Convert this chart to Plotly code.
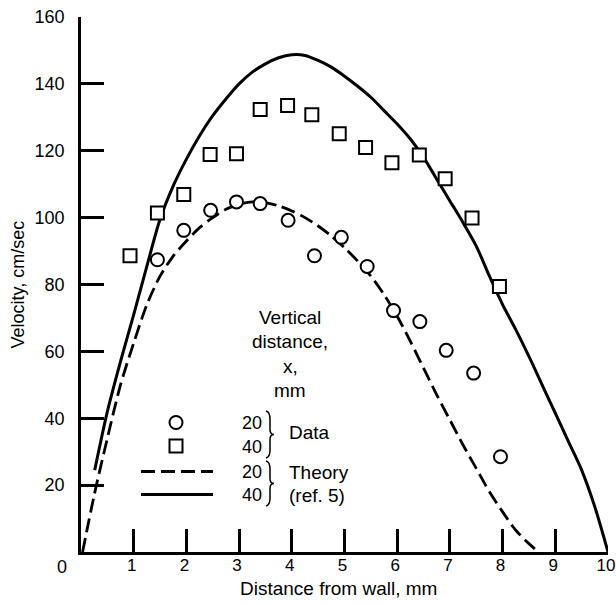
import plotly.graph_objects as go

# ---------------- data ----------------
data20_x = [1.45, 1.95, 2.46, 2.95, 3.4, 3.93, 4.43, 4.94, 5.43, 5.93, 6.43, 6.93, 7.45, 7.96]
data20_y = [87.4, 96.2, 102.2, 104.7, 104.2, 99.2, 88.6, 94.1, 85.4, 72.2, 68.9, 60.3, 53.5, 28.5]

data40_x = [0.93, 1.45, 1.95, 2.45, 2.95, 3.4, 3.92, 4.38, 4.9, 5.4, 5.9, 6.42, 6.91, 7.42, 7.94]
data40_y = [88.6, 101.4, 106.9, 118.9, 119.1, 132.3, 133.5, 130.8, 125.1, 121.0, 116.4, 118.7, 111.6, 99.9, 79.4]

theory20_x = [0.03, 0.25, 0.5, 0.75, 1.0, 1.25, 1.5, 1.75, 2.0, 2.25, 2.5, 2.75, 3.0, 3.25, 3.5,
              3.75, 4.0, 4.25, 4.5, 4.75, 5.0, 5.25, 5.5, 5.75, 6.0, 6.25, 6.5, 6.75, 7.0, 7.25,
              7.5, 7.75, 8.0, 8.25, 8.5, 8.68]
theory20_y = [0.0, 17.0, 34.0, 50.0, 62.5, 74.0, 82.5, 88.5, 93.0, 97.0, 100.0, 102.5, 104.0, 104.7, 104.5,
              103.5, 102.0, 100.0, 97.5, 94.5, 91.0, 87.0, 82.5, 77.0, 70.5, 63.0, 55.0, 47.0, 39.5, 32.0,
              25.0, 18.0, 12.0, 6.5, 2.5, 0.0]

theory40_x = [0.26, 0.5, 0.75, 1.0, 1.25, 1.5, 1.75, 2.0, 2.25, 2.5, 2.75, 3.0, 3.25, 3.5, 3.75,
              4.0, 4.25, 4.5, 4.75, 5.0, 5.25, 5.5, 5.75, 6.0, 6.25, 6.5, 6.75, 7.0, 7.25, 7.5,
              7.75, 8.0, 8.25, 8.5, 8.75, 9.0, 9.25, 9.5, 9.75, 10.0]
theory40_y = [24.5, 42.0, 57.0, 71.0, 85.5, 99.5, 109.5, 117.5, 124.5, 130.5, 135.5, 140.0, 143.5, 146.0, 147.8,
              148.7, 148.5, 147.0, 145.0, 142.3, 139.3, 136.0, 132.0, 128.0, 123.5, 118.0, 111.5, 105.0, 98.5, 91.5,
              82.5, 74.0, 66.5, 58.5, 50.0, 41.5, 33.0, 24.5, 13.5, 0.0]

x_ticks = [1, 2, 3, 4, 5, 6, 7, 8, 9, 10]
y_ticks = [20, 40, 60, 80, 100, 120, 140, 160]

x_title = "Distance from wall, mm"
y_title = "Velocity, cm/sec"
legend_title = ["Vertical", "distance,", "x,", "mm"]
legend_nums = ["20", "40", "20", "40"]
legend_groups = ["Data", "Theory", "(ref. 5)"]

# ---------------- layout helpers ----------------
W, H = 616, 605
ML, MR, MT, MB = 81, 8, 17, 53
PW, PH = W - ML - MR, H - MT - MB


def fx(px):
    return (px - ML) / PW


def fy(py):
    return (H - MB - py) / PH


REG = "Liberation Sans, Arial, sans-serif"

fig = go.Figure()

fig.add_trace(go.Scatter(x=theory20_x, y=theory20_y, mode="lines",
                         line=dict(color="black", width=2.8, dash="14px,6px", shape="spline", smoothing=0.8),
                         showlegend=False, cliponaxis=False))
fig.add_trace(go.Scatter(x=theory40_x, y=theory40_y, mode="lines",
                         line=dict(color="black", width=3, shape="spline", smoothing=0.8),
                         showlegend=False, cliponaxis=False))
fig.add_trace(go.Scatter(x=data20_x, y=data20_y, mode="markers",
                         marker=dict(symbol="circle", size=13, color="white", line=dict(color="black", width=2)),
                         showlegend=False))
fig.add_trace(go.Scatter(x=data40_x, y=data40_y, mode="markers",
                         marker=dict(symbol="square", size=13, color="white", line=dict(color="black", width=2)),
                         showlegend=False))

shapes = []
annotations = []

# axis titles and corner zero
annotations.append(dict(x=fx(338), y=fy(588), xref="paper", yref="paper", text=x_title,
                        showarrow=False, font=dict(family=REG, size=19, color="black"),
                        xanchor="center", yanchor="middle"))
annotations.append(dict(x=fx(17), y=fy(284.5), xref="paper", yref="paper", text=y_title,
                        showarrow=False, textangle=-90, font=dict(family=REG, size=18, color="black"),
                        xanchor="center", yanchor="middle"))
annotations.append(dict(x=fx(62), y=fy(567), xref="paper", yref="paper", text="0",
                        showarrow=False, font=dict(family=REG, size=18, color="black"),
                        xanchor="center", yanchor="middle"))

# legend title block
for i, t in enumerate(legend_title):
    annotations.append(dict(x=fx(290), y=fy(317 + i * 24.5), xref="paper", yref="paper", text=t,
                            showarrow=False, font=dict(family=REG, size=19, color="black"),
                            xanchor="center", yanchor="middle"))

row_y = [423, 446.5, 471.5, 494.5]
for t, yy in zip(legend_nums, row_y):
    annotations.append(dict(x=fx(252), y=fy(yy), xref="paper", yref="paper", text=t,
                            showarrow=False, font=dict(family=REG, size=18, color="black"),
                            xanchor="center", yanchor="middle"))
for t, yy in zip(legend_groups, [432, 472, 495]):
    annotations.append(dict(x=fx(287), y=fy(yy), xref="paper", yref="paper", text=t,
                            showarrow=False, font=dict(family=REG, size=19, color="black"),
                            xanchor="left", yanchor="middle"))

# legend symbols
cx, cy, r = 176, 422.5, 6.5
shapes.append(dict(type="circle", xref="paper", yref="paper",
                   x0=fx(cx - r), x1=fx(cx + r), y0=fy(cy + r), y1=fy(cy - r),
                   line=dict(color="black", width=2), fillcolor="white"))
cy2 = 446
shapes.append(dict(type="rect", xref="paper", yref="paper",
                   x0=fx(cx - r), x1=fx(cx + r), y0=fy(cy2 + r), y1=fy(cy2 - r),
                   line=dict(color="black", width=2), fillcolor="white"))
shapes.append(dict(type="line", xref="paper", yref="paper",
                   x0=fx(141), x1=fx(213), y0=fy(471.5), y1=fy(471.5),
                   line=dict(color="black", width=2.8, dash="14px,6px")))
shapes.append(dict(type="line", xref="paper", yref="paper",
                   x0=fx(141), x1=fx(213), y0=fy(494.5), y1=fy(494.5),
                   line=dict(color="black", width=3)))


def brace(x0, ytop, ybot):
    ym = (ytop + ybot) / 2
    pts = [
        ("M", [(x0, ytop)]),
        ("Q", [(x0 + 4, ytop + 1), (x0 + 4, ytop + 8)]),
        ("L", [(x0 + 4, ym - 5)]),
        ("Q", [(x0 + 4, ym), (x0 + 8, ym)]),
        ("Q", [(x0 + 4, ym), (x0 + 4, ym + 5)]),
        ("L", [(x0 + 4, ybot - 8)]),
        ("Q", [(x0 + 4, ybot - 1), (x0, ybot)]),
    ]
    s = ""
    for cmd, ps in pts:
        s += cmd + " " + " ".join(f"{fx(a):.5f},{fy(b):.5f}" for a, b in ps) + " "
    return s.strip()


shapes.append(dict(type="path", xref="paper", yref="paper", path=brace(266, 411, 458),
                   line=dict(color="black", width=1.5)))
shapes.append(dict(type="path", xref="paper", yref="paper", path=brace(266, 461, 506),
                   line=dict(color="black", width=1.5)))

fig.update_layout(
    width=W, height=H,
    margin=dict(l=ML, r=MR, t=MT, b=MB, pad=0, autoexpand=False),
    paper_bgcolor="white", plot_bgcolor="white",
    showlegend=False,
    shapes=shapes,
    annotations=annotations,
    xaxis=dict(range=[0, 10], tickvals=x_ticks, ticktext=[str(v) for v in x_ticks],
               ticks="inside", ticklen=23, tickwidth=2.5, tickcolor="black",
               showline=True, linewidth=2.5, linecolor="black", automargin=False,
               showgrid=False, zeroline=False, ticklabelstandoff=-4, ticklabelshift=-2,
               ticklabeloverflow="allow",
               tickfont=dict(family=REG, size=17, color="black")),
    yaxis=dict(range=[0, 160], tickvals=y_ticks, ticktext=[str(v) for v in y_ticks],
               ticks="inside", ticklen=23, tickwidth=2.5, tickcolor="black",
               showline=True, linewidth=2.5, linecolor="black", automargin=False,
               showgrid=False, zeroline=False, ticklabelstandoff=10,
               ticklabeloverflow="allow",
               tickfont=dict(family=REG, size=18, color="black")),
)

fig.write_html("out.html")
